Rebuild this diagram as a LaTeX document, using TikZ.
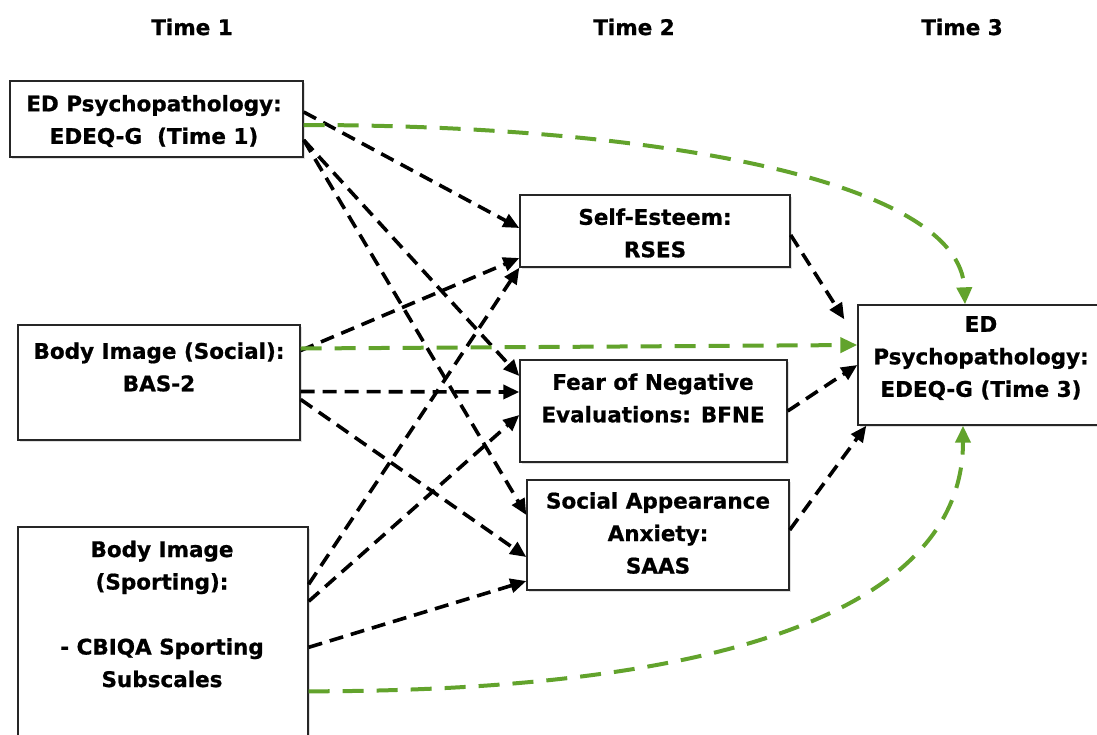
\documentclass[tikz,border=0pt]{standalone}
\usepackage{fontspec}
\setmainfont{DejaVu Sans}[BoldFeatures={FakeBold=0.8}]
\usetikzlibrary{arrows.meta,shadows}
\definecolor{grn}{RGB}{98,163,44}
\begin{document}
\begin{tikzpicture}[x=1pt,y=1pt,
  box/.style={draw=black!85,line width=1.4pt,fill=white,minimum width=#1,inner sep=0pt,
    drop shadow={shadow xshift=2pt,shadow yshift=-2pt,opacity=0.25}},
  lbl/.style={align=center,inner sep=0pt,font=\fontsize{21.5}{32.5}\selectfont\bfseries},
  hdr/.style={inner sep=0pt,font=\fontsize{21.5}{26}\selectfont\bfseries},
  blk/.style={draw=black,line width=3.6pt,dash pattern=on 14pt off 8pt,
    -{Triangle[length=16pt,width=14pt]}},
  grnarr/.style={draw=grn,line width=4pt,dash pattern=on 21pt off 13pt,
    -{Triangle[length=17pt,width=15pt]}}]
\useasboundingbox (0,0) rectangle (1097,-734);

% headers
\node[hdr] (t1) at (192,-27) {Time 1};
\node[hdr] (t2) at (634,-27) {Time 2};
\node[hdr] (t3) at (962,-27) {Time 3};

% boxes
\node[box=293pt,minimum height=76pt] (A) at (156.5,-119) {};
\node[box=282pt,minimum height=115pt] (B) at (159,-382.5) {};
\node[box=290pt,minimum height=218pt] (C) at (163,-636) {};
\node[box=270pt,minimum height=72pt] (D) at (655,-231) {};
\node[box=267pt,minimum height=102pt] (E) at (653.5,-411) {};
\node[box=262pt,minimum height=110pt] (F) at (658,-535) {};
\node[box=242pt,minimum height=120pt] (G) at (979,-365) {};

% labels
\node[lbl] (Atxt) at (154,-121) {ED Psychopathology:\\EDEQ-G\ \ (Time 1)};
\node[lbl] (Btxt) at (159,-367) {Body Image (Social):\\BAS-2};
\node[lbl] (Ctxt) at (162,-614) {Body Image\\(Sporting):\\\mbox{}\\- CBIQA Sporting\\Subscales};
\node[lbl] (Dtxt) at (655,-233) {Self-Esteem:\\RSES};
\node[lbl] (Etxt) at (653,-398) {Fear of Negative\\Evaluations: BFNE};
\node[lbl] (Ftxt) at (658,-533) {Social Appearance\\Anxiety:\\SAAS};
\node[lbl] (Gtxt) at (981,-358) {ED\\Psychopathology:\\EDEQ-G (Time 3)};

% black dashed paths
\draw[blk] ([yshift=7]A.east) -- ([yshift=3]D.west);
\draw[blk] ([yshift=-21]A.east) -- ([yshift=35]E.west);
\draw[blk] ([yshift=-21]A.east) -- ([yshift=20]F.west);
\draw[blk] ([yshift=32]B.east) -- ([yshift=-27]D.west);
\draw[blk] ([yshift=-9]B.east) -- ([yshift=19]E.west);
\draw[blk] ([yshift=-17]B.east) -- ([yshift=-22]F.west);
\draw[blk] ([yshift=-58]C.north east) -- (D.south west);
\draw[blk] ([yshift=-75]C.north east) -- ([yshift=-4]E.west);
\draw[blk] ([yshift=-121]C.north east) -- ([yshift=-46]F.west);
\draw[blk] ([yshift=-4]D.east) -- ([xshift=-13,yshift=-15]G.north west);
\draw[blk] (E.east) -- (G.west);
\draw[blk] ([yshift=5]F.east) -- ([xshift=9]G.south west);

% green paths
\draw[grnarr] ([yshift=-6]A.east) .. controls +(347,0) and +(-5,125) .. ([xshift=-14]G.north);
\draw[grnarr] ([yshift=34]B.east) -- ([yshift=20]G.west);
\draw[grnarr] ([yshift=-165]C.north east) .. controls +(442,0) and +(0,-173) .. ([xshift=-16]G.south);
\end{tikzpicture}
\end{document}
